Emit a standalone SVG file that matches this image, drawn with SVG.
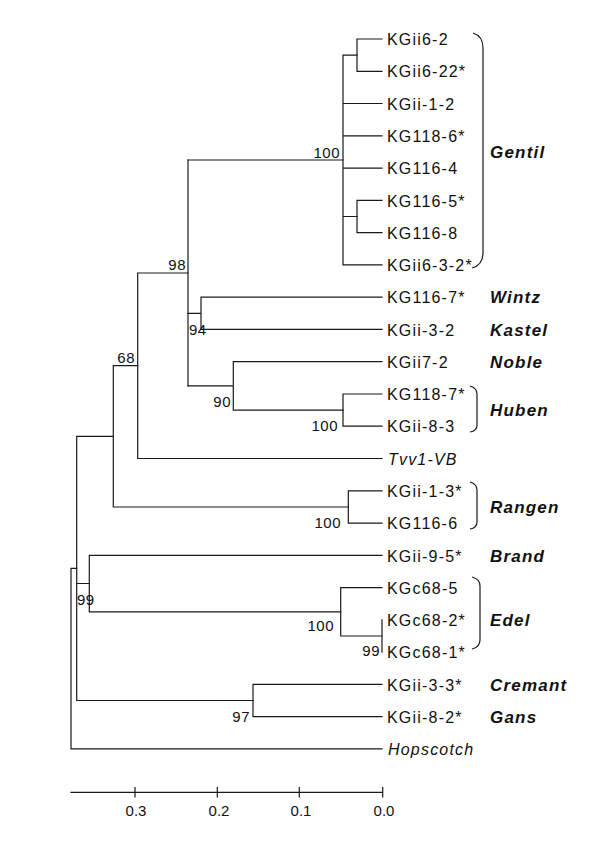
<svg xmlns="http://www.w3.org/2000/svg" width="600" height="850" viewBox="0 0 600 850">
<style>
.br{fill:none;stroke:#1a1a1a;stroke-width:1.2;stroke-linecap:square}
.bk{fill:none;stroke:#1a1a1a;stroke-width:1.2}
.lf{font-family:"Liberation Sans",Arial,sans-serif;font-size:16px;letter-spacing:1.2px;fill:#111}
.it{font-style:italic}
.bs{font-family:"Liberation Sans",Arial,sans-serif;font-size:15px;letter-spacing:0.5px;fill:#111}
.cl{font-family:"Liberation Sans",Arial,sans-serif;font-size:17px;font-weight:bold;font-style:italic;letter-spacing:1.2px;fill:#111}
.ax{font-family:"Liberation Sans",Arial,sans-serif;font-size:15px;fill:#111;text-anchor:middle}
.r{text-anchor:end}
</style>
<rect width="600" height="850" fill="#fff"/>
<g id="connectors" class="br">
<path d="M357 39V71.3M357 39H382M357 71.3H382"/>
<path d="M357 200.4V232.6M357 200.4H382M357 232.6H382"/>
<path d="M343 55.1V264.9M343 55.1H357M343 103.5H382M343 135.8H382M343 168.1H382M343 216.5H357M343 264.9H382"/>
<path d="M188 160H343"/>
<path d="M201 297.2V329.4M201 297.2H382M201 329.4H382M188 313.3H201"/>
<path d="M343 394V426.2M343 394H382M343 426.2H382"/>
<path d="M233.3 361.7V410.1M233.3 361.7H382M233.3 410.1H343M188 385.9H233.3"/>
<path d="M188 160V385.9"/>
<path d="M137.7 273V458.5M137.7 273H188M137.7 458.5H382"/>
<path d="M348.3 490.8V523.1M348.3 490.8H382M348.3 523.1H382"/>
<path d="M113.3 365.7V507M113.3 365.7H137.7M113.3 507H348.3"/>
<path d="M89.3 555.3V611.8M89.3 555.3H382M89.3 611.8H340.7"/>
<path d="M340.7 587.6V636M340.7 587.6H382M340.7 636H382"/>
<path d="M382 619.9V652.1"/>
<path d="M253 684.4V716.7M253 684.4H382M253 716.7H382"/>
<path d="M76.7 436.3V700.5M76.7 436.3H113.3M76.7 583.5H89.3M76.7 700.5H253"/>
<path d="M71 568.4V748.9M71 568.4H76.7M71 748.9H382"/>
</g>
<g id="bootstrap">
<text class="bs r" x="340" y="158">100</text>
<text class="bs r" x="186" y="270">98</text>
<text class="bs" x="189" y="335">94</text>
<text class="bs r" x="231" y="407">90</text>
<text class="bs r" x="338" y="431">100</text>
<text class="bs r" x="135" y="363">68</text>
<text class="bs r" x="341" y="528">100</text>
<text class="bs" x="77" y="605">99</text>
<text class="bs r" x="334" y="631">100</text>
<text class="bs r" x="380" y="656">99</text>
<text class="bs r" x="250" y="722">97</text>
</g>
<g id="leaf-KGii6-2"><text class="lf" x="387" y="45">KGii6-2</text></g>
<g id="leaf-KGii6-22"><text class="lf" x="387" y="77">KGii6-22*</text></g>
<g id="leaf-KGii-1-2"><text class="lf" x="387" y="109.5">KGii-1-2</text></g>
<g id="leaf-KG118-6"><text class="lf" x="387" y="142">KG118-6*</text></g>
<g id="leaf-KG116-4"><text class="lf" x="387" y="174">KG116-4</text></g>
<g id="leaf-KG116-5"><text class="lf" x="387" y="206.5">KG116-5*</text></g>
<g id="leaf-KG116-8"><text class="lf" x="387" y="238.5">KG116-8</text></g>
<g id="leaf-KGii6-3-2"><text class="lf" x="387" y="271">KGii6-3-2*</text></g>
<g id="leaf-KG116-7"><text class="lf" x="387" y="303">KG116-7*</text></g>
<g id="leaf-KGii-3-2"><text class="lf" x="387" y="335.5">KGii-3-2</text></g>
<g id="leaf-KGii7-2"><text class="lf" x="387" y="367.5">KGii7-2</text></g>
<g id="leaf-KG118-7"><text class="lf" x="387" y="400">KG118-7*</text></g>
<g id="leaf-KGii-8-3"><text class="lf" x="387" y="432">KGii-8-3</text></g>
<g id="leaf-Tvv1-VB"><text class="lf it" x="388" y="464.5">Tvv1-VB</text></g>
<g id="leaf-KGii-1-3"><text class="lf" x="387" y="497">KGii-1-3*</text></g>
<g id="leaf-KG116-6"><text class="lf" x="387" y="529">KG116-6</text></g>
<g id="leaf-KGii-9-5"><text class="lf" x="387" y="561.5">KGii-9-5*</text></g>
<g id="leaf-KGc68-5"><text class="lf" x="387" y="593.5">KGc68-5</text></g>
<g id="leaf-KGc68-2"><text class="lf" x="387" y="626">KGc68-2*</text></g>
<g id="leaf-KGc68-1"><text class="lf" x="387" y="658">KGc68-1*</text></g>
<g id="leaf-KGii-3-3"><text class="lf" x="387" y="690.5">KGii-3-3*</text></g>
<g id="leaf-KGii-8-2"><text class="lf" x="387" y="722.5">KGii-8-2*</text></g>
<g id="leaf-Hopscotch"><text class="lf it" x="388" y="755">Hopscotch</text></g>
<g id="clade-Gentil"><path class="bk" d="M473 33Q483 36 483 48V253Q483 265 472 268"/><text class="cl" x="490" y="158">Gentil</text></g>
<g id="clade-Wintz"><text class="cl" x="490" y="303">Wintz</text></g>
<g id="clade-Kastel"><text class="cl" x="490" y="335.5">Kastel</text></g>
<g id="clade-Noble"><text class="cl" x="490" y="367.5">Noble</text></g>
<g id="clade-Huben"><path class="bk" d="M470 386Q477 388 477 394V425Q477 431 470 432"/><text class="cl" x="490" y="416">Huben</text></g>
<g id="clade-Rangen"><path class="bk" d="M470 482Q477 484 477 490V522Q477 528 470 529"/><text class="cl" x="490" y="513">Rangen</text></g>
<g id="clade-Brand"><text class="cl" x="490" y="561.5">Brand</text></g>
<g id="clade-Edel"><path class="bk" d="M472 577Q480 579 480 586V640Q480 647 472 649"/><text class="cl" x="490" y="626">Edel</text></g>
<g id="clade-Cremant"><text class="cl" x="490" y="690.5">Cremant</text></g>
<g id="clade-Gans"><text class="cl" x="490" y="722.5">Gans</text></g>
<g id="axis">
<path class="br" d="M71 792.3H382.7M135 787.5V797M217.3 787.5V797M299.3 787.5V797M382.7 787.5V797"/>
<text class="ax" x="136" y="816">0.3</text>
<text class="ax" x="219" y="816">0.2</text>
<text class="ax" x="301" y="816">0.1</text>
<text class="ax" x="384" y="816">0.0</text>
</g>
</svg>
